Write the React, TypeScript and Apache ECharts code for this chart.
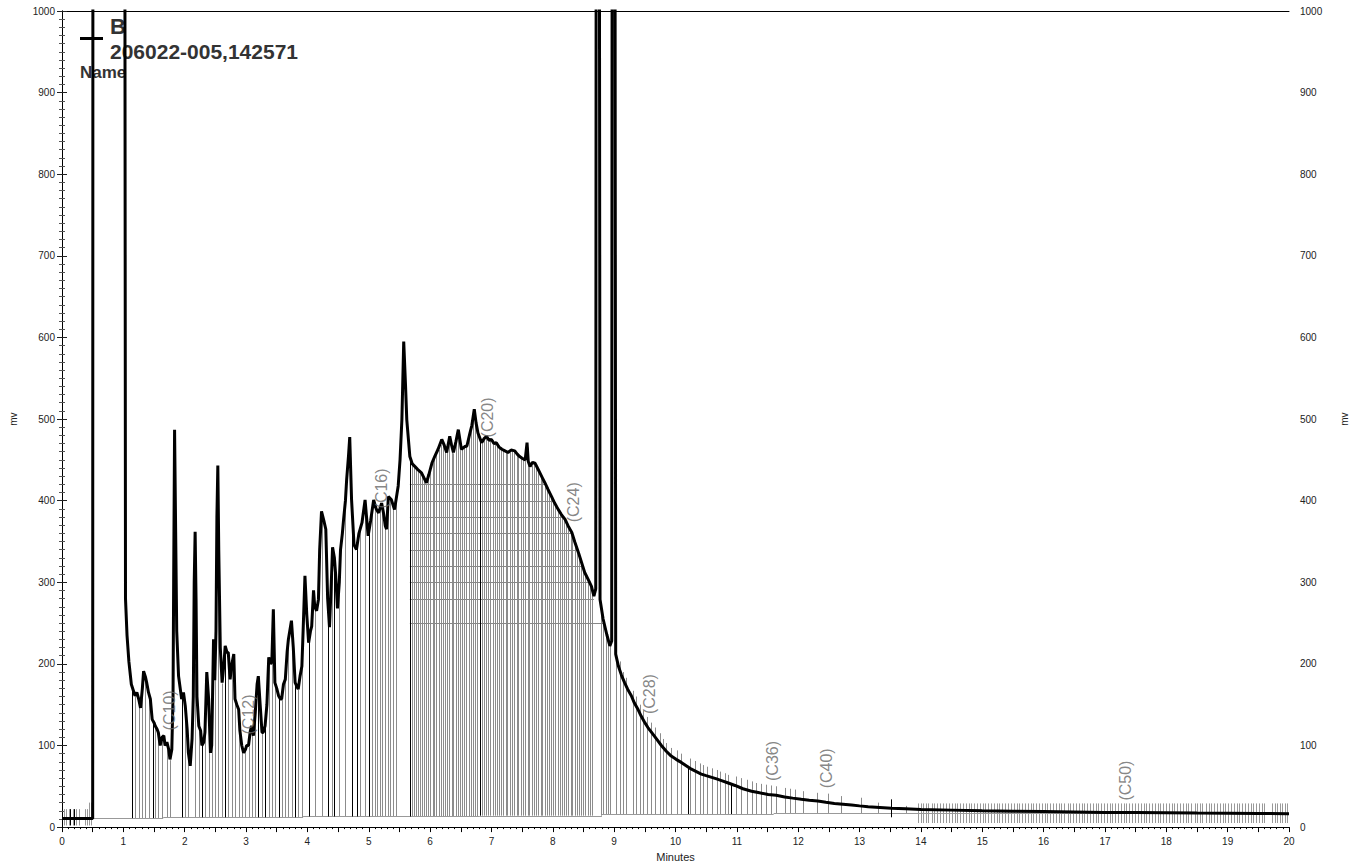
import React, { useEffect, useRef } from "react";
import * as echarts from "echarts";

// Chromatogram trace: [minutes, mV] (values above 1000 run off the top of the plot)
const trace: [number, number][] = [
  [0, 10.5], [0.5, 10.5], [0.505, 1500], [1.02, 1500], [1.035, 280], [1.06, 235], [1.09, 203], [1.13, 175],
  [1.16, 168], [1.19, 161], [1.22, 165], [1.25, 157], [1.28, 146], [1.31, 170], [1.33, 191], [1.36, 184],
  [1.38, 177], [1.41, 165], [1.44, 157], [1.47, 132], [1.5, 128], [1.52, 124], [1.55, 120], [1.57, 116],
  [1.6, 100], [1.63, 110], [1.66, 112], [1.68, 100], [1.71, 104], [1.74, 95], [1.76, 83], [1.79, 95],
  [1.81, 160], [1.82, 300], [1.835, 487], [1.85, 380], [1.87, 240], [1.9, 185], [1.95, 157], [1.98, 165],
  [2.01, 148], [2.04, 120], [2.06, 91], [2.09, 75], [2.12, 108], [2.14, 160], [2.155, 300], [2.17, 362],
  [2.185, 280], [2.2, 160], [2.23, 124], [2.26, 118], [2.28, 100], [2.31, 104], [2.33, 116], [2.36, 190],
  [2.39, 157], [2.42, 91], [2.44, 100], [2.47, 230], [2.49, 180], [2.51, 240], [2.525, 380], [2.54, 443],
  [2.555, 340], [2.58, 220], [2.61, 177], [2.64, 200], [2.66, 222], [2.69, 214], [2.71, 214], [2.74, 181],
  [2.77, 200], [2.8, 212], [2.82, 157], [2.85, 150], [2.88, 144], [2.9, 118], [2.93, 100], [2.96, 91],
  [2.99, 95], [3.01, 100], [3.04, 100], [3.07, 118], [3.09, 124], [3.12, 112], [3.15, 140], [3.18, 175],
  [3.2, 185], [3.23, 150], [3.26, 116], [3.28, 116], [3.31, 124], [3.34, 150], [3.37, 208], [3.4, 200],
  [3.42, 202], [3.445, 267], [3.47, 177], [3.5, 170], [3.53, 161], [3.56, 157], [3.58, 157], [3.61, 175],
  [3.64, 181], [3.67, 215], [3.69, 230], [3.74, 253], [3.77, 220], [3.8, 177], [3.83, 172], [3.85, 169],
  [3.88, 185], [3.91, 197], [3.93, 240], [3.96, 308], [3.99, 260], [4.02, 226], [4.05, 240], [4.07, 246],
  [4.1, 290], [4.12, 270], [4.15, 265], [4.18, 279], [4.2, 340], [4.23, 387], [4.27, 375], [4.3, 365],
  [4.33, 280], [4.36, 245], [4.39, 300], [4.41, 343], [4.44, 330], [4.46, 310], [4.49, 268], [4.52, 300],
  [4.54, 340], [4.57, 360], [4.59, 377], [4.62, 400], [4.64, 426], [4.67, 455], [4.69, 478], [4.72, 401],
  [4.76, 346], [4.8, 340], [4.84, 360], [4.89, 373], [4.94, 401], [4.99, 357], [5.03, 375], [5.08, 401],
  [5.12, 390], [5.16, 385], [5.21, 397], [5.24, 385], [5.27, 369], [5.29, 365], [5.32, 405], [5.37, 401],
  [5.42, 389], [5.48, 418], [5.51, 450], [5.54, 499], [5.57, 595], [5.6, 540], [5.62, 499], [5.67, 454],
  [5.71, 445], [5.75, 442], [5.8, 438], [5.86, 434], [5.9, 428], [5.94, 422], [5.98, 432], [6.03, 446],
  [6.08, 455], [6.13, 463], [6.19, 475], [6.23, 468], [6.27, 459], [6.32, 479], [6.35, 468], [6.38, 459],
  [6.42, 472], [6.46, 487], [6.51, 463], [6.56, 466], [6.6, 467], [6.65, 483], [6.68, 492], [6.72, 512],
  [6.75, 495], [6.78, 483], [6.84, 471], [6.88, 476], [6.92, 479], [6.96, 474], [7.0, 475], [7.04, 470],
  [7.08, 471], [7.12, 466], [7.17, 463], [7.22, 461], [7.27, 459], [7.32, 462], [7.38, 461], [7.42, 457],
  [7.46, 454], [7.5, 452], [7.55, 450], [7.58, 471], [7.6, 448], [7.63, 442], [7.67, 447], [7.71, 446],
  [7.75, 440], [7.79, 434], [7.83, 428], [7.87, 422], [7.92, 414], [7.98, 405], [8.03, 397], [8.09, 389],
  [8.14, 383], [8.2, 377], [8.25, 369], [8.31, 361], [8.36, 349], [8.42, 336], [8.47, 324], [8.52, 312],
  [8.58, 303], [8.63, 295], [8.67, 283], [8.7, 292], [8.71, 1500], [8.755, 1500], [8.77, 279], [8.82, 255],
  [8.88, 236], [8.93, 222], [8.96, 228], [8.97, 1500], [9.01, 1500], [9.025, 212], [9.07, 197], [9.12, 186],
  [9.17, 177], [9.22, 169], [9.28, 161], [9.33, 152], [9.39, 144], [9.44, 136], [9.5, 128], [9.55, 122],
  [9.61, 116], [9.69, 108], [9.77, 100], [9.85, 93], [9.93, 87], [10.01, 83], [10.1, 79], [10.18, 75],
  [10.26, 71], [10.34, 68], [10.42, 65], [10.5, 63], [10.59, 61], [10.67, 59], [10.75, 57], [10.86, 54],
  [10.97, 51], [11.1, 47], [11.24, 44], [11.37, 42], [11.51, 40], [11.64, 39], [11.78, 37], [11.91, 35.5],
  [12.05, 34], [12.18, 33], [12.32, 32], [12.45, 30.5], [12.59, 29], [12.73, 28], [12.87, 27], [13.0, 26],
  [13.14, 25], [13.33, 24], [13.52, 23], [13.75, 22.5], [14.0, 21.5], [14.5, 20.8], [15.0, 20], [15.5, 19.5],
  [16.0, 19], [16.5, 18.5], [17.0, 18], [17.5, 17.8], [18.0, 17.5], [18.5, 17.2], [19.0, 17], [19.5, 16.8],
  [20.0, 16.5],
];

// Integration baseline: [start min, end min, mV]
const baselineSteps: [number, number, number][] = [
  [0.5, 1.65, 11], [1.65, 3.93, 12], [3.93, 6.8, 13], [6.8, 8.8, 14], [8.8, 11.6, 16], [11.6, 20, 17],
];

// Black drop lines from the baseline: [min, top mV]
const darkMarkers: [number, number][] = [
  [1.14, 172], [1.48, 130], [1.95, 157], [2.29, 101], [2.66, 222], [3.19, 180], [3.31, 124], [3.53, 161],
  [3.8, 177], [4.02, 226], [4.34, 268], [4.44, 330], [4.72, 401], [4.81, 342], [5.0, 360], [5.67, 454],
  [6.81, 477], [10.2, 75], [10.91, 53],
];

// Grey drop lines from the baseline: [min, top mV]
const grayMarkers: [number, number][] = [
  [1.19, 160], [1.25, 156], [1.3, 165], [1.36, 183], [1.41, 164], [1.52, 123], [1.57, 115], [1.63, 108],
  [1.71, 103], [1.76, 82], [2.01, 147], [2.06, 90], [2.17, 200], [2.23, 123], [2.33, 115], [2.39, 156],
  [2.44, 99], [2.5, 200], [2.55, 300], [2.61, 176], [2.71, 213], [2.77, 199], [2.82, 156], [2.88, 143],
  [2.93, 99], [2.99, 94], [3.04, 99], [3.09, 123], [3.15, 139], [3.26, 115], [3.37, 206], [3.42, 201],
  [3.47, 176], [3.58, 156], [3.64, 180], [3.69, 228], [3.75, 250], [3.85, 168], [3.91, 196], [4.12, 268],
  [4.23, 385], [4.4, 320], [4.51, 285], [4.61, 390], [4.86, 365], [4.94, 399], [5.05, 385], [5.1, 395],
  [5.13, 390], [5.18, 390], [5.22, 395], [5.27, 368], [5.31, 395], [5.35, 402], [5.4, 395], [5.45, 405],
  [5.7, 445], [5.73, 440], [5.77, 440], [5.8, 437], [5.83, 435], [5.87, 432], [5.9, 428], [5.93, 420],
  [5.97, 430], [6.0, 440], [6.04, 446], [6.07, 452], [6.1, 458], [6.14, 462], [6.17, 468], [6.21, 470],
  [6.24, 462], [6.28, 460], [6.31, 472], [6.35, 465], [6.38, 458], [6.42, 472], [6.45, 482], [6.49, 468],
  [6.52, 462], [6.56, 465], [6.59, 466], [6.63, 476], [6.66, 488], [6.7, 505], [6.74, 500], [6.77, 485],
  [6.85, 470], [6.88, 474], [6.91, 478], [6.95, 476], [6.98, 474], [7.02, 474], [7.05, 472], [7.09, 470],
  [7.12, 468], [7.16, 464], [7.19, 462], [7.23, 460], [7.26, 459], [7.3, 459], [7.34, 460], [7.37, 461],
  [7.41, 458], [7.44, 455], [7.48, 453], [7.51, 452], [7.55, 450], [7.59, 465], [7.62, 445], [7.66, 443],
  [7.69, 445], [7.73, 443], [7.76, 438], [7.8, 433], [7.83, 428], [7.87, 422], [7.9, 418], [7.94, 412],
  [7.97, 406], [8.01, 400], [8.04, 396], [8.08, 390], [8.11, 386], [8.15, 382], [8.18, 379], [8.22, 374],
  [8.25, 370], [8.29, 364], [8.32, 358], [8.36, 350], [8.39, 343], [8.43, 334], [8.46, 326], [8.5, 316],
  [8.53, 310], [8.57, 304], [8.6, 300], [8.64, 292], [8.78, 272], [8.82, 254], [8.86, 242], [8.9, 230],
  [8.94, 224], [9.03, 480], [9.09, 203], [9.15, 190], [9.2, 183], [9.31, 167], [9.36, 160], [9.42, 150],
  [9.47, 143], [9.53, 135], [9.6, 128], [9.66, 122], [9.74, 115], [9.8, 108], [9.85, 103], [9.93, 97],
  [10.02, 94], [10.09, 90], [10.23, 84], [10.31, 81], [10.4, 78], [10.45, 76], [10.52, 74], [10.59, 72],
  [10.67, 70], [10.72, 68], [10.81, 66], [10.86, 64], [10.99, 62], [11.07, 60], [11.16, 58], [11.24, 56],
  [11.32, 54], [11.4, 53], [11.48, 52], [11.56, 51], [11.64, 50], [11.78, 48], [11.87, 47], [11.94, 46],
  [12.08, 44], [12.3, 42], [12.49, 41], [12.7, 38], [13.03, 36], [13.3, 30], [13.75, 26],
];

// Short markers: [min, from mV, to mV]
const shortGrayMarkers: [number, number, number][] = [
  [0.03, 2, 22], [0.065, 2, 22], [0.11, 2, 22], [0.175, 2, 22], [0.23, 2, 22], [0.28, 2, 22],
  [0.38, 2, 22], [0.41, 2, 22], [0.445, 2, 30], [0.475, 2, 30],
];
const shortDarkMarkers: [number, number, number][] = [
  [0.135, 2, 22], [0.19, 2, 22], [13.51, 12, 34],
];

// Dense marker band at the end of the run
const tailRange: [number, number] = [5, 29];
const tailMarkers: number[] = [
  13.95, 14.0, 14.04, 14.09, 14.12, 14.18, 14.22, 14.27, 14.31, 14.36, 14.41, 14.45, 14.5, 14.55, 14.59,
  14.64, 14.68, 14.73, 14.78, 14.82, 14.86, 14.91, 14.96, 15.01, 15.05, 15.1, 15.14, 15.19, 15.24, 15.28,
  15.33, 15.37, 15.42, 15.47, 15.51, 15.56, 15.6, 15.65, 15.7, 15.74, 15.79, 15.83, 15.88, 15.93, 15.97,
  16.02, 16.06, 16.11, 16.16, 16.2, 16.25, 16.29, 16.34, 16.39, 16.43, 16.48, 16.52, 16.57, 16.62, 16.66,
  16.71, 16.75, 16.8, 16.85, 16.89, 16.94, 16.98, 17.03, 17.08, 17.12, 17.17, 17.21, 17.26, 17.31, 17.35,
  17.4, 17.44, 17.49, 17.54, 17.58, 17.63, 17.67, 17.72, 17.77, 17.81, 17.86, 17.9, 17.95, 18.0, 18.04,
  18.09, 18.13, 18.18, 18.23, 18.27, 18.32, 18.36, 18.41, 18.46, 18.5, 18.55, 18.59, 18.64, 18.69, 18.73,
  18.78, 18.82, 18.87, 18.92, 18.96, 19.01, 19.05, 19.1, 19.15, 19.19, 19.24, 19.28, 19.33, 19.38, 19.42,
  19.47, 19.51, 19.56, 19.6, 19.73, 19.77, 19.81, 19.85, 19.89, 19.93, 19.97,
];

// Horizontal hatch segments in the unresolved hump: [start min, end min, mV]
const hatchBands: [number, number, number][] = [
  [5.67, 8.83, 250], [5.67, 8.67, 280], [5.67, 8.6, 300], [5.67, 8.49, 320], [5.67, 8.41, 340],
  [5.67, 8.31, 360], [5.67, 8.18, 380], [5.67, 8.02, 400], [5.67, 7.87, 420],
];

// Carbon-range labels
const labelNames = ["(C10)", "(C12)", "(C16)", "(C20)", "(C24)", "(C28)", "(C36)", "(C40)", "(C50)"];
const labelTimes = [1.75, 3.04, 5.21, 6.94, 8.34, 9.57, 11.58, 12.46, 17.34];
const labelMv = [143, 138, 415, 502, 398, 163, 81, 72, 57];

const xTickLabels = Array.from({ length: 21 }, (_, i) => String(i));

function baseAt(t: number): number {
  for (const [s, e, v] of baselineSteps) if (t >= s && t < e) return v;
  return baselineSteps[baselineSteps.length - 1][2];
}

function vSeg(color: string) {
  return (_p: any, api: any) => {
    const a = api.coord([api.value(0), api.value(1)]);
    const b = api.coord([api.value(0), api.value(2)]);
    const x = Math.round(a[0]) + 0.5;
    return { type: "line", shape: { x1: x, y1: a[1], x2: x, y2: b[1] }, style: { stroke: color, lineWidth: 1 } };
  };
}
function hSeg(color: string) {
  return (_p: any, api: any) => {
    const a = api.coord([api.value(0), api.value(2)]);
    const b = api.coord([api.value(1), api.value(2)]);
    const y = Math.round(a[1]) + 0.5;
    return { type: "line", shape: { x1: a[0], y1: y, x2: b[0], y2: y }, style: { stroke: color, lineWidth: 1 } };
  };
}

const FONT = "'Liberation Sans', Arial, sans-serif";

export default function App() {
  const ref = useRef<HTMLDivElement>(null);
  useEffect(() => {
    if (!ref.current) return;
    const chart = echarts.init(ref.current, undefined, { renderer: "svg" });
    const yAxisCommon = {
      type: "value",
      min: 0,
      max: 1000,
      interval: 100,
      splitLine: { show: false },
      axisLine: { show: true, lineStyle: { color: "#000", width: 1 } },
      axisTick: { show: true, length: 5, lineStyle: { color: "#222" } },
      minorTick: { show: true, splitNumber: 10, length: 3, lineStyle: { color: "#555" } },
      name: "mv",
      nameLocation: "middle",
      nameRotate: 90,
      nameTextStyle: { fontSize: 10, color: "#222", fontFamily: FONT },
    };
    const yLabel = (margin: number) => ({
      fontSize: 10,
      color: "#222",
      margin,
      formatter: (v: number) => String(v),
    });
    chart.setOption({
      animation: false,
      textStyle: { fontFamily: FONT },
      grid: { left: 60, right: 71, top: 11, bottom: 39 },
      xAxis: [
        {
          type: "value",
          min: 0,
          max: 20,
          interval: 0.5,
          position: "bottom",
          splitLine: { show: false },
          axisLine: { show: true, onZero: false, lineStyle: { color: "#000", width: 1 } },
          axisTick: { show: true, length: 5, lineStyle: { color: "#000" } },
          minorTick: { show: true, splitNumber: 5, length: 2, lineStyle: { color: "#000" } },
          axisLabel: {
            fontSize: 10,
            color: "#222",
            margin: 9,
            formatter: (v: number) => {
              const r = Math.round(v);
              return Math.abs(v - r) < 1e-6 ? xTickLabels[r] : "";
            },
          },
          name: "Minutes",
          nameLocation: "middle",
          nameGap: 22,
          nameTextStyle: { fontSize: 11, color: "#222", fontFamily: FONT },
        },
        {
          type: "value",
          min: 0,
          max: 20,
          position: "top",
          splitLine: { show: false },
          axisLine: { show: true, onZero: false, lineStyle: { color: "#000", width: 1 } },
          axisTick: { show: false },
          axisLabel: { show: false },
        },
      ],
      yAxis: [
        { ...yAxisCommon, position: "left", nameGap: 44, axisLabel: yLabel(7) },
        { ...yAxisCommon, position: "right", nameGap: 50, axisLabel: yLabel(11) },
      ],
      graphic: [
        { type: "line", shape: { x1: 80, y1: 38.5, x2: 103, y2: 38.5 }, style: { stroke: "#000", lineWidth: 3 } },
        { type: "text", x: 110, y: 26, style: { text: "B", font: `bold 22px ${FONT}`, fill: "#333", verticalAlign: "middle" } },
        {
          type: "text",
          x: 110,
          y: 51,
          style: { text: "206022-005,142571", font: `bold 21px ${FONT}`, fill: "#333", verticalAlign: "middle" },
        },
        { type: "text", x: 80, y: 72, style: { text: "Name", font: `bold 17px ${FONT}`, fill: "#333", verticalAlign: "middle" } },
      ],
      series: [
        {
          type: "custom",
          renderItem: vSeg("#8c8c8c"),
          clip: true,
          silent: true,
          data: grayMarkers.map(([t, top]) => [t, baseAt(t), top]),
          z: 1,
        },
        {
          type: "custom",
          renderItem: vSeg("#999"),
          clip: true,
          silent: true,
          data: shortGrayMarkers,
          z: 1,
        },
        {
          type: "custom",
          renderItem: vSeg("#999"),
          clip: true,
          silent: true,
          data: tailMarkers.map((t) => [t, tailRange[0], tailRange[1]]),
          z: 1,
        },
        {
          type: "custom",
          renderItem: hSeg("#888"),
          clip: true,
          silent: true,
          data: hatchBands,
          z: 1,
        },
        {
          type: "custom",
          renderItem: hSeg("#999"),
          clip: true,
          silent: true,
          data: baselineSteps,
          z: 1,
        },
        {
          type: "custom",
          renderItem: vSeg("#000"),
          clip: true,
          silent: true,
          data: darkMarkers.map(([t, top]) => [t, baseAt(t), top]),
          z: 2,
        },
        {
          type: "custom",
          renderItem: vSeg("#000"),
          clip: true,
          silent: true,
          data: shortDarkMarkers,
          z: 2,
        },
        {
          type: "line",
          data: trace,
          showSymbol: false,
          clip: true,
          silent: true,
          lineStyle: { color: "#000", width: 3 },
          z: 3,
        },
        {
          type: "scatter",
          symbolSize: 1,
          itemStyle: { color: "rgba(0,0,0,0)" },
          silent: true,
          data: labelTimes.map((t, i) => ({ value: [t, labelMv[i]], name: labelNames[i] })),
          label: {
            show: true,
            position: "inside",
            rotate: 90,
            formatter: "{b}",
            fontSize: 16,
            color: "#666",
            fontFamily: FONT,
          },
          z: 4,
        },
      ],
    });
    return () => chart.dispose();
  }, []);
  return <div ref={ref} style={{ position: "absolute", left: 0, top: 0, width: 1360, height: 867 }} />;
}
